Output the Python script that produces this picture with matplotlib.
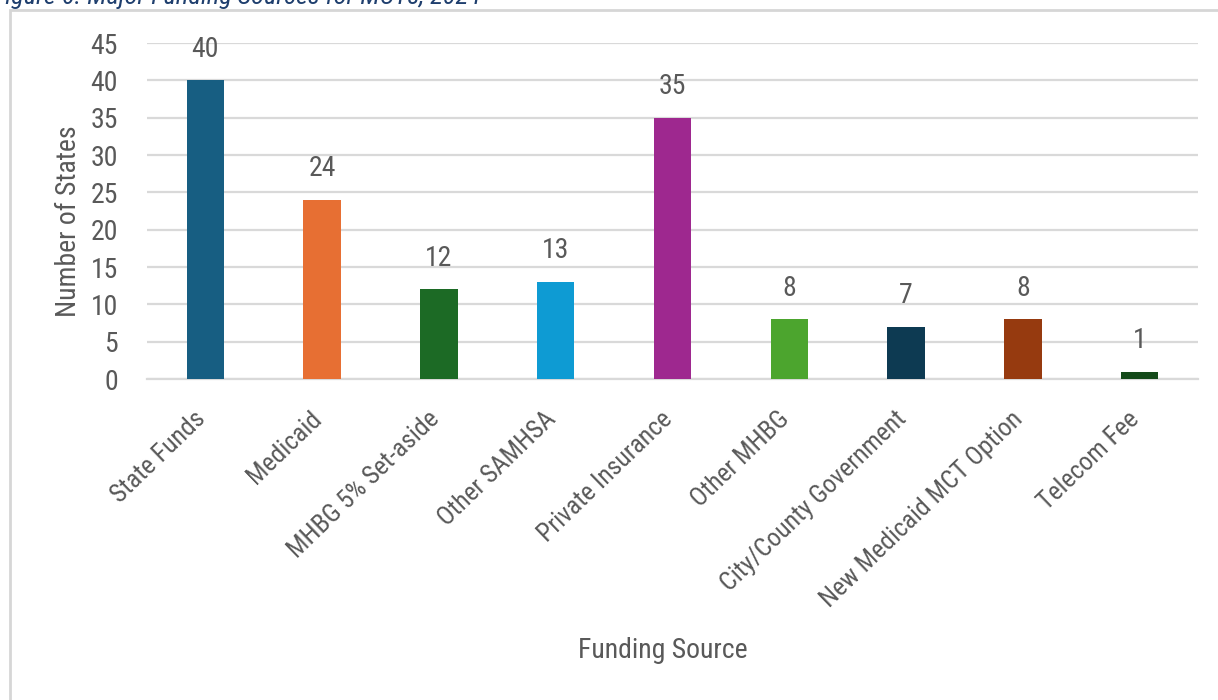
import matplotlib
matplotlib.use("Agg")
import matplotlib.pyplot as plt
from matplotlib import font_manager
from matplotlib.patches import Rectangle
from matplotlib.transforms import ScaledTranslation

# Data
categories = [
    "State Funds", "Medicaid", "MHBG 5% Set-aside", "Other SAMHSA",
    "Private Insurance", "Other MHBG", "City/County Government",
    "New Medicaid MCT Option", "Telecom Fee",
]
num_states = [40, 24, 12, 13, 35, 8, 7, 8, 1]
bar_colors = [
    "#175E82", "#E76F33", "#1C6A25", "#0E9BD3", "#9E288F",
    "#4CA52E", "#0D3A52", "#963A0F", "#144A1A",
]
y_ticks = [0, 5, 10, 15, 20, 25, 30, 35, 40, 45]
title = "Figure 6. Major Funding Sources for MCTs, 2024"

installed = {f.name for f in font_manager.fontManager.ttflist}
families = [n for n in ("Roboto Condensed", "Liberation Sans") if n in installed]
plt.rcParams["font.family"] = families + ["DejaVu Sans"]

TEXT = "#595959"
GRID = "#D9D9D9"

fig = plt.figure(figsize=(12.18, 7.0), dpi=100)
fig.patch.set_facecolor("white")

# Outer chart frame (only its left and top edges fall inside the canvas)
frame = Rectangle((10 / 1218, -0.2), 1.5, 1.2 - 10 / 700,
                  transform=fig.transFigure, fill=False,
                  edgecolor="#D6D6D6", linewidth=2.0, zorder=0)
fig.patches.append(frame)

# Caption above the frame, partly cut off by the canvas edge
fig.text(-0.006, 1 - 4 / 700, title, ha="left", va="baseline",
         fontsize=19, style="italic", color="#1F3F6E")

ax = fig.add_axes([147 / 1218, 1 - 379 / 700, (1198 - 147) / 1218, (379 - 43) / 700])
x = list(range(len(categories)))
ax.bar(x, num_states, width=0.32, color=bar_colors, zorder=3)

ax.set_xlim(-0.5, len(categories) - 0.5)
ax.set_ylim(0, 45)
ax.set_yticks(y_ticks)
ax.set_yticklabels([str(t) for t in y_ticks], fontsize=20, color=TEXT)
ax.tick_params(axis="y", length=0, pad=21)
ax.yaxis.grid(True, color=GRID, linewidth=1.6, zorder=0)
ax.set_axisbelow(True)
for s in ("top", "right", "left"):
    ax.spines[s].set_visible(False)
ax.spines["bottom"].set_color(GRID)
ax.spines["bottom"].set_linewidth(1.6)

ax.set_xticks(x)
ax.set_xticklabels(categories, rotation=44, ha="right", rotation_mode="anchor",
                   fontsize=18.5, color=TEXT)
ax.tick_params(axis="x", length=0, pad=20)
shift = ScaledTranslation(-12 / 100, 0, fig.dpi_scale_trans)
for lbl in ax.get_xticklabels():
    lbl.set_transform(lbl.get_transform() + shift)

for xi, v in zip(x, num_states):
    ax.annotate(str(v), (xi, v), xytext=(0, 31), textcoords="offset pixels",
                ha="center", va="center", fontsize=20, color=TEXT)

ax.text((68 - 147) / 1051, (379 - 221) / 336, "Number of States", rotation=90,
        ha="center", va="center", fontsize=20, color=TEXT, transform=ax.transAxes)
ax.text((663 - 147) / 1051, (379 - 650) / 336, "Funding Source",
        ha="center", va="center", fontsize=20, color=TEXT, transform=ax.transAxes)

fig.savefig("out.png", dpi=100, facecolor="white")
